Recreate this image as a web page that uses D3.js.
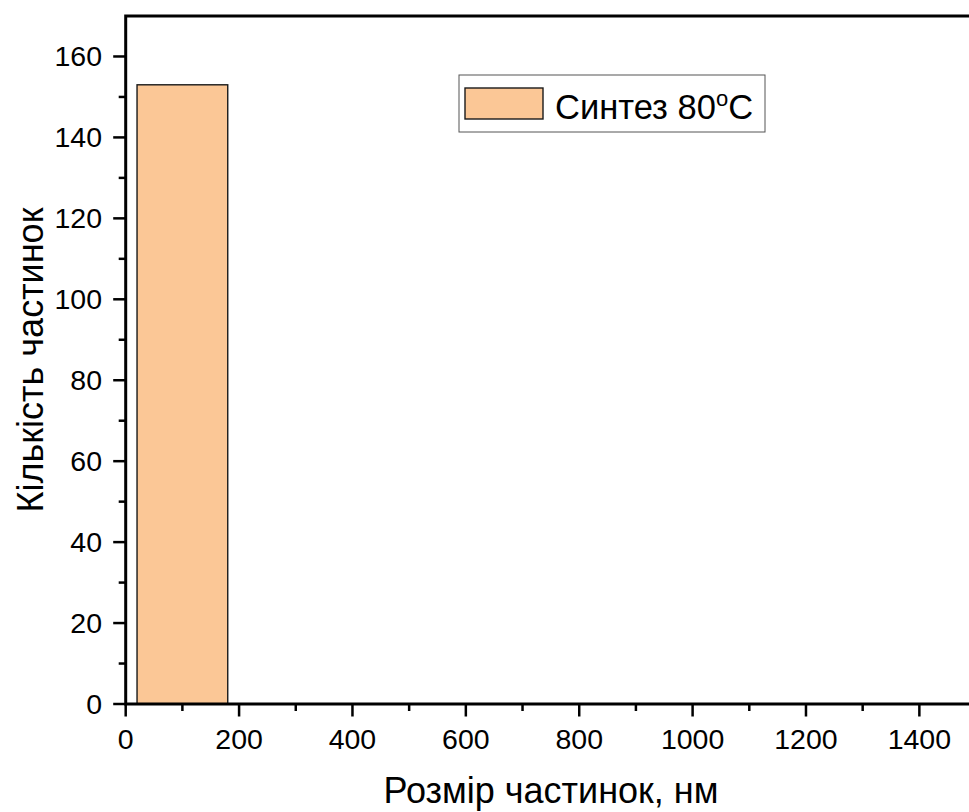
<!DOCTYPE html>
<html>
<head>
<meta charset="utf-8">
<script src="https://cdn.jsdelivr.net/npm/d3@7"></script>
<style>
  body { margin: 0; background: #fff; }
  text { font-family: "Liberation Sans", Arial, sans-serif; fill: #000; }
</style>
</head>
<body>
<script>
// histogram data
const binStart = [20];
const binEnd = [180];
const counts = [153];
const seriesName = "Синтез 80";

const xTicks = [0, 200, 400, 600, 800, 1000, 1200, 1400];
const yTicks = [0, 20, 40, 60, 80, 100, 120, 140, 160];

const width = 969, height = 812;
const plotLeft = 125.7, plotBottom = 704, plotTop = 16;

const svg = d3.select("body").append("svg")
    .attr("width", width)
    .attr("height", height);

const x = d3.scaleLinear().domain([0, 1500]).range([plotLeft, plotLeft + 1500 * 0.5669]);
const y = d3.scaleLinear().domain([0, 170]).range([plotBottom, plotTop]);

// bars
svg.append("g")
    .selectAll("rect")
    .data(counts)
    .join("rect")
    .attr("x", (d, i) => x(binStart[i]))
    .attr("width", (d, i) => x(binEnd[i]) - x(binStart[i]))
    .attr("y", d => y(d))
    .attr("height", d => y(0) - y(d))
    .attr("fill", "#fbc796")
    .attr("stroke", "#1a1a1a")
    .attr("stroke-width", 1.4);

// minor ticks
const xMinor = d3.range(100, 1500, 200);
const yMinor = d3.range(10, 170, 20);

const axes = svg.append("g").attr("stroke", "#000");

axes.selectAll(".xmaj").data(xTicks).join("line")
    .attr("x1", d => x(d)).attr("x2", d => x(d))
    .attr("y1", plotBottom).attr("y2", plotBottom + 12.5)
    .attr("stroke-width", 2.5);
axes.selectAll(".xmin").data(xMinor).join("line")
    .attr("x1", d => x(d)).attr("x2", d => x(d))
    .attr("y1", plotBottom).attr("y2", plotBottom + 7)
    .attr("stroke-width", 2.5);
axes.selectAll(".ymaj").data(yTicks).join("line")
    .attr("x1", plotLeft - 12.5).attr("x2", plotLeft)
    .attr("y1", d => y(d)).attr("y2", d => y(d))
    .attr("stroke-width", 2.5);
axes.selectAll(".ymin").data(yMinor).join("line")
    .attr("x1", plotLeft - 7).attr("x2", plotLeft)
    .attr("y1", d => y(d)).attr("y2", d => y(d))
    .attr("stroke-width", 2.5);

// axis frame
axes.append("path")
    .attr("d", `M${x(1500)},${plotTop} H${plotLeft} V${plotBottom} H${x(1500)}`)
    .attr("fill", "none")
    .attr("stroke-width", 3);

// tick labels
svg.append("g").selectAll("text").data(xTicks).join("text")
    .attr("x", d => x(d))
    .attr("y", 749)
    .attr("text-anchor", "middle")
    .style("font-size", "28.5px")
    .text(d => d);

svg.append("g").selectAll("text").data(yTicks).join("text")
    .attr("x", 102)
    .attr("y", d => y(d) + 10)
    .attr("text-anchor", "end")
    .style("font-size", "28.5px")
    .text(d => d);

// axis titles
svg.append("text")
    .attr("x", 551)
    .attr("y", 803)
    .attr("text-anchor", "middle")
    .style("font-size", "36px")
    .text("Розмір частинок, нм");

svg.append("text")
    .attr("transform", "translate(43,360) rotate(-90)")
    .attr("text-anchor", "middle")
    .style("font-size", "36px")
    .text("Кількість частинок");

// legend
const lg = svg.append("g");
lg.append("rect")
    .attr("x", 459).attr("y", 75)
    .attr("width", 306).attr("height", 57)
    .attr("fill", "#fff")
    .attr("stroke", "#555")
    .attr("stroke-width", 1);
lg.append("rect")
    .attr("x", 465).attr("y", 88)
    .attr("width", 78).attr("height", 31)
    .attr("fill", "#fbc796")
    .attr("stroke", "#1a1a1a")
    .attr("stroke-width", 1.4);
const lt = lg.append("text")
    .attr("x", 555).attr("y", 119)
    .style("font-size", "34.5px");
lt.append("tspan").text(seriesName);
lt.append("tspan").attr("dy", -13).style("font-size", "22px").text("o");
lt.append("tspan").attr("dy", 13).text("C");
</script>
</body>
</html>
